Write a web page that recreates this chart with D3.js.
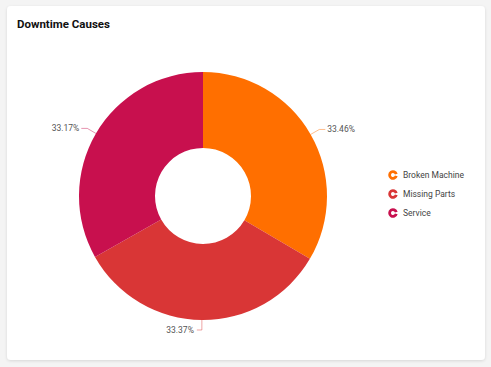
<!DOCTYPE html>
<html><head><meta charset="utf-8">
<script src="https://cdn.jsdelivr.net/npm/d3@7"></script>
<style>
body{margin:0;background:#f4f4f4;font-family:Roboto,"Noto Sans",sans-serif;}
</style></head><body>
<svg id="c" width="491" height="367"></svg>
<script>
const categories = ["Broken Machine", "Missing Parts", "Service"];
const values = [33.46, 33.37, 33.17];
const colors = ["#FF6F00", "#D93636", "#C8104E"];

const svg = d3.select("#c");
const defs = svg.append("defs");
const f = defs.append("filter").attr("id","sh").attr("x","-5%").attr("y","-5%").attr("width","110%").attr("height","110%");
f.append("feDropShadow").attr("dx",0).attr("dy",1).attr("stdDeviation",1.5).attr("flood-color","#000").attr("flood-opacity",0.12);
svg.append("rect").attr("x",7).attr("y",6).attr("width",478).attr("height",354).attr("rx",4).attr("fill","#fff").attr("filter","url(#sh)");
svg.append("text").attr("x",17).attr("y",28).text("Downtime Causes").attr("font-size",11.5).attr("font-weight",700).attr("fill","#111");

const cx=203, cy=196, R=124, r=48;
const g = svg.append("g").attr("transform",`translate(${cx},${cy})`);
const pie = d3.pie().sort(null).value(d=>d)(values);
const arc = d3.arc().innerRadius(r).outerRadius(R);
g.selectAll("path.s").data(pie).join("path").attr("d",arc).attr("fill",(d,i)=>colors[i]);

pie.forEach((d,i)=>{
  const a=(d.startAngle+d.endAngle)/2;
  const px=Math.sin(a)*R, py=-Math.cos(a)*R;
  const ex=Math.sin(a)*(R+10), ey=-Math.cos(a)*(R+10);
  const right = Math.sin(a)>0.01, bottom = Math.abs(Math.sin(a))<0.05;
  let pts, tx, ty, anchor;
  if(bottom){ pts=[[px,py],[px,py+10],[px-5,py+10]]; tx=px-8; ty=py+10; anchor="end"; }
  else if(right){ pts=[[px,py],[ex,ey],[ex+6,ey]]; tx=ex+8; ty=ey; anchor="start"; }
  else { pts=[[px,py],[ex,ey],[ex-6,ey]]; tx=ex-8; ty=ey; anchor="end"; }
  g.append("polyline").attr("points",pts.map(p=>p.join(",")).join(" ")).attr("fill","none").attr("stroke",colors[i]).attr("stroke-opacity",0.45).attr("stroke-width",1);
  g.append("text").attr("x",tx).attr("y",ty).attr("dy","0.35em").attr("text-anchor",anchor).attr("font-size",8.5).attr("fill","#555").text(d3.format(".2f")(values[i])+"%");
});

const lg = svg.append("g").attr("transform","translate(393,175)");
categories.forEach((c,i)=>{
  const row = lg.append("g").attr("transform",`translate(0,${i*19})`);
  const ia = d3.arc().innerRadius(2).outerRadius(4.8).startAngle(0.25).endAngle(2*Math.PI-0.25);
  row.append("path").attr("d",ia).attr("fill",colors[i]).attr("transform","rotate(90)");
  row.append("text").attr("x",10).attr("dy","0.35em").attr("font-size",8.5).attr("fill","#444").text(c);
});
</script></body></html>
